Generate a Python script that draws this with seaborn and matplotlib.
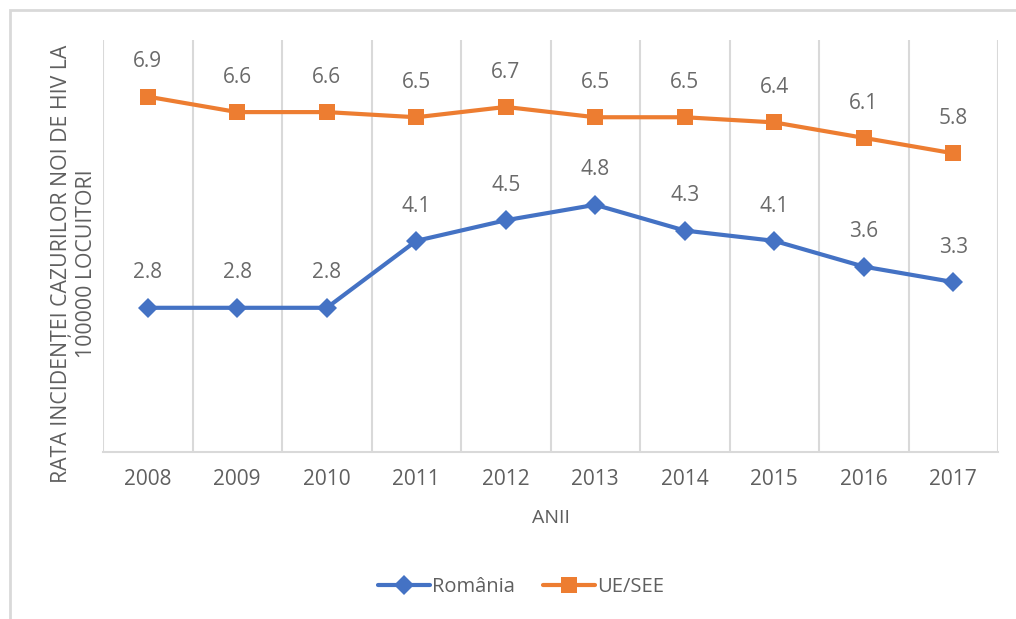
import matplotlib
matplotlib.use("Agg")
import matplotlib.pyplot as plt
import seaborn as sns
import pandas as pd
from matplotlib.patches import Rectangle
from matplotlib.lines import Line2D

years = ["2008", "2009", "2010", "2011", "2012", "2013", "2014", "2015", "2016", "2017"]
romania = [2.8, 2.8, 2.8, 4.1, 4.5, 4.8, 4.3, 4.1, 3.6, 3.3]
ue_see = [6.9, 6.6, 6.6, 6.5, 6.7, 6.5, 6.5, 6.4, 6.1, 5.8]
series_names = ["România", "UE/SEE"]
x_title = "ANII"
y_title = "RATA INCIDENȚEI CAZURILOR NOI DE HIV LA\n100000 LOCUITORI"

sns.set_theme(style="white")
plt.rcParams["font.family"] = ["Open Sans", "DejaVu Sans"]

GRAY = "#5F5F5F"
LABEL_GRAY = "#6A6A6A"
GRID = "#D9D9D9"
colors = {"România": "#4472C4", "UE/SEE": "#ED7D31"}
markers = {"România": "D", "UE/SEE": "s"}
msizes = {"D": 10, "s": 12}

df = pd.DataFrame({
    "x": list(range(len(years))) * 2,
    "year": years * 2,
    "value": romania + ue_see,
    "series": [series_names[0]] * len(years) + [series_names[1]] * len(years),
})

fig = plt.figure(figsize=(10.16, 6.19), dpi=100)
ax = fig.add_axes([103 / 1016, 1 - 452 / 619, (998 - 103) / 1016, (452 - 40) / 619])

sns.lineplot(data=df, x="x", y="value", hue="series", style="series",
             markers=markers, dashes=False, palette=colors, linewidth=3,
             markersize=10, markeredgewidth=0, ax=ax, legend=False)
for line in ax.lines:
    m = line.get_marker()
    if m in msizes:
        line.set_markersize(msizes[m])

ax.set_xlim(-0.5, len(years) - 0.5)
ax.set_ylim(0, 8)
ax.set_yticks([])
ax.set_xticks(range(len(years)))
ax.set_xticklabels(years, color=GRAY, fontsize=15)
ax.tick_params(axis="x", length=0, pad=12)
for b in [i + 0.5 for i in range(len(years) - 1)] + [-0.5, len(years) - 0.5]:
    ax.axvline(b, color=GRID, lw=1.5, zorder=0)
for side in ["top", "right", "left"]:
    ax.spines[side].set_visible(False)
ax.spines["bottom"].set_color(GRID)
ax.spines["bottom"].set_linewidth(1.5)

ax.set_xlabel(x_title, color=GRAY, fontsize=14, labelpad=14)
ax.set_ylabel("")
fig.text(74 / 1016, 1 - 264 / 619, y_title, rotation=90, ha="center", va="center",
         multialignment="center", color=GRAY, fontsize=15.3, linespacing=1.25)

for vals in (romania, ue_see):
    for i, v in enumerate(vals):
        ax.annotate(f"{v:.1f}", (i, v), xytext=(0, 17.5), textcoords="offset points",
                    ha="center", va="bottom", color=LABEL_GRAY, fontsize=15)

handles = [Line2D([], [], color=colors[n], marker=markers[n], lw=3,
                  markersize=msizes[markers[n]], markeredgewidth=0)
           for n in series_names]
fig.legend(handles, series_names, loc="center", bbox_to_anchor=(521 / 1016, 1 - 587 / 619),
           ncol=2, frameon=False, fontsize=14.5, labelcolor=GRAY, handlelength=2.6,
           handletextpad=0.1, columnspacing=1.4)

fig.patches.append(Rectangle((10 / 1016, -0.1), 1.2, 1 - 10 / 619 + 0.1,
                             transform=fig.transFigure, fill=False,
                             edgecolor="#D9D9D9", lw=2, zorder=0))

fig.savefig("out.png", dpi=100)
